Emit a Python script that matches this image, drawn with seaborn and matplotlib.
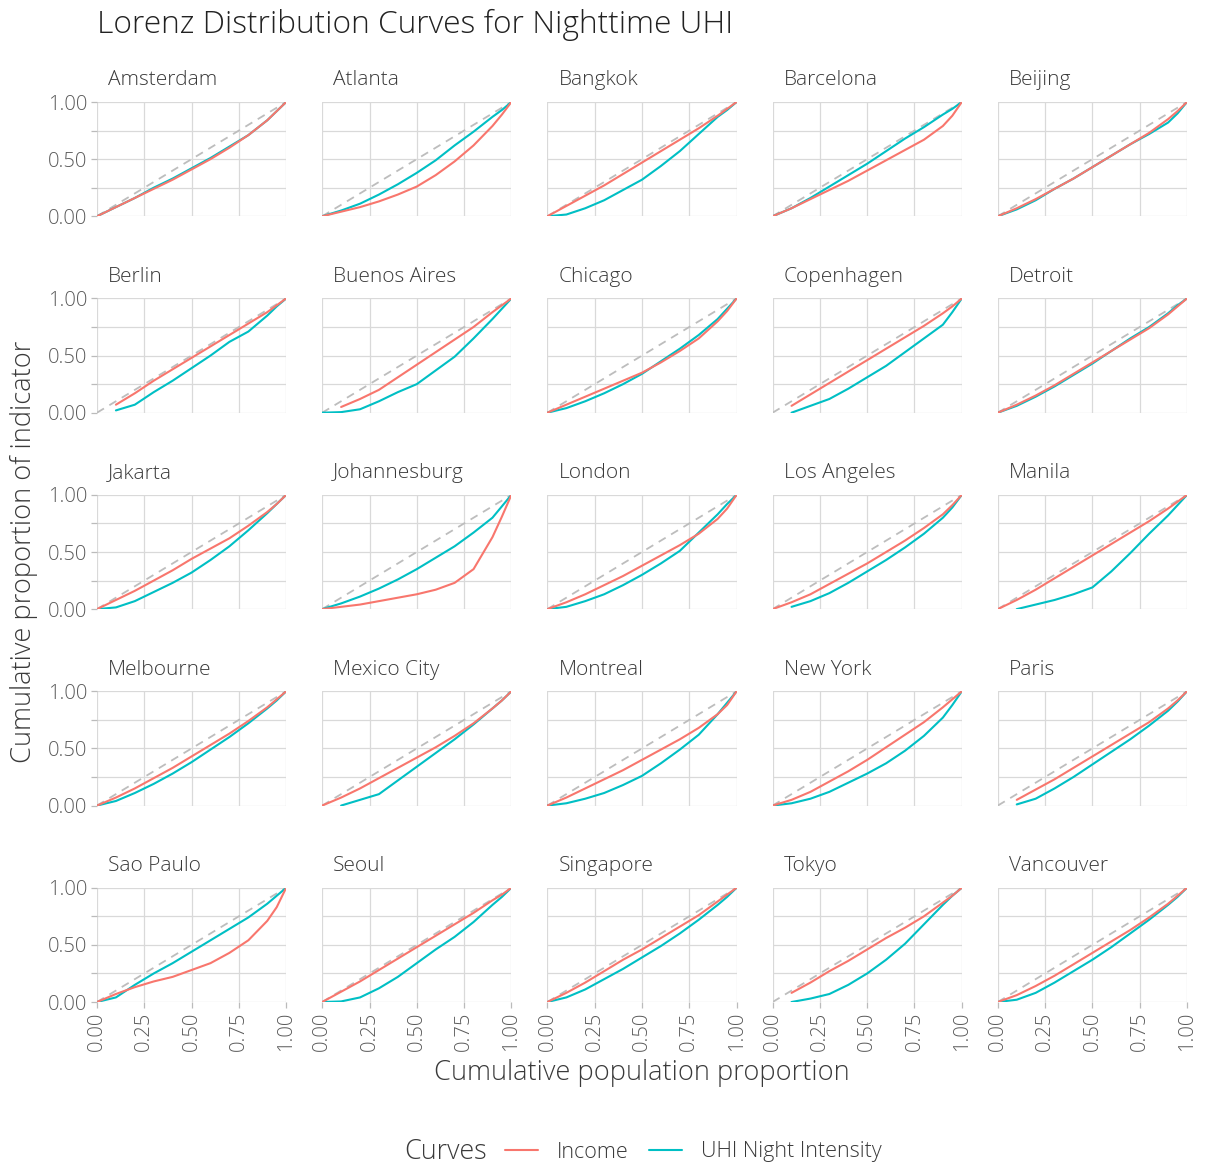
import numpy as np
import pandas as pd
import matplotlib
matplotlib.use("Agg")
import matplotlib.pyplot as plt
from matplotlib.lines import Line2D
import seaborn as sns

# ---------------- data ----------------
x_grid = [0.0, 0.1, 0.2, 0.3, 0.4, 0.5, 0.6, 0.7, 0.8, 0.9, 0.95, 1.0]
NA = np.nan

cities = ["Amsterdam", "Atlanta", "Bangkok", "Barcelona", "Beijing",
          "Berlin", "Buenos Aires", "Chicago", "Copenhagen", "Detroit",
          "Jakarta", "Johannesburg", "London", "Los Angeles", "Manila",
          "Melbourne", "Mexico City", "Montreal", "New York", "Paris",
          "Sao Paulo", "Seoul", "Singapore", "Tokyo", "Vancouver"]

income_amsterdam = [0, .08, .16, .24, .32, .41, .50, .60, .71, .84, .92, 1]
uhi_amsterdam    = [0, .08, .16, .25, .33, .42, .51, .61, .71, .84, .92, 1]
income_atlanta   = [0, .04, .08, .13, .19, .26, .36, .48, .62, .79, .89, 1]
uhi_atlanta      = [0, .05, .11, .19, .28, .38, .49, .62, .74, .87, .93, 1]
income_bangkok   = [0, .09, .18, .27, .37, .47, .57, .67, .77, .88, .94, 1]
uhi_bangkok      = [0, .015, .07, .14, .23, .32, .44, .57, .72, .87, .93, 1]
income_barcelona = [0, .07, .15, .23, .31, .40, .49, .58, .67, .79, .88, 1]
uhi_barcelona    = [0, .07, .16, .26, .36, .46, .57, .68, .78, .89, .94, 1]
income_beijing   = [0, .07, .15, .24, .33, .43, .53, .63, .73, .85, .92, 1]
uhi_beijing      = [0, .06, .14, .24, .33, .43, .53, .63, .72, .82, .90, 1]

income_berlin     = [NA, .07, .17, .28, .38, .48, .58, .68, .78, .88, .94, 1]
uhi_berlin        = [NA, .02, .07, .18, .28, .39, .50, .62, .71, .85, .93, 1]
income_buenosaires = [NA, .05, .12, .20, .31, .42, .53, .64, .75, .88, .94, 1]
uhi_buenosaires   = [0, .005, .03, .10, .18, .25, .37, .49, .65, .82, .91, 1]
income_chicago    = [0, .07, .14, .21, .28, .35, .44, .54, .65, .80, .89, 1]
uhi_chicago       = [0, .04, .10, .17, .25, .34, .45, .56, .68, .82, .91, 1]
income_copenhagen = [NA, .06, .16, .26, .36, .46, .56, .66, .76, .87, .93, 1]
uhi_copenhagen    = [NA, 0.0, .06, .12, .21, .31, .41, .53, .65, .77, .88, 1]
income_detroit    = [0, .07, .15, .24, .34, .44, .54, .64, .74, .86, .93, 1]
uhi_detroit       = [0, .06, .14, .23, .33, .43, .54, .65, .75, .87, .94, 1]

income_jakarta      = [0, .08, .16, .25, .34, .44, .53, .62, .73, .85, .92, 1]
uhi_jakarta         = [0, .015, .07, .15, .23, .32, .43, .55, .69, .84, .92, 1]
income_johannesburg = [0, .02, .04, .07, .10, .13, .17, .23, .35, .63, .81, 1]
uhi_johannesburg    = [0, .05, .11, .18, .26, .35, .45, .55, .67, .80, .90, 1]
income_london       = [0, .06, .13, .21, .29, .38, .47, .56, .66, .79, .88, 1]
uhi_london          = [0, .02, .07, .13, .21, .30, .40, .51, .67, .83, .92, 1]
income_losangeles   = [0, .06, .13, .22, .31, .40, .50, .60, .71, .83, .91, 1]
uhi_losangeles      = [NA, .02, .07, .14, .23, .33, .43, .54, .66, .80, .89, 1]
income_manila       = [0, .08, .17, .27, .37, .47, .57, .67, .77, .88, .94, 1]
uhi_manila          = [NA, 0.0, .04, .08, .13, .19, .33, .49, .66, .82, .91, 1]

income_melbourne  = [0, .07, .15, .24, .33, .43, .53, .63, .74, .86, .93, 1]
uhi_melbourne     = [0, .04, .11, .19, .28, .38, .49, .60, .72, .85, .92, 1]
income_mexicocity = [0, .07, .15, .24, .33, .42, .51, .61, .72, .85, .92, 1]
uhi_mexicocity    = [NA, 0.0, .05, .10, .22, .34, .46, .58, .71, .85, .92, 1]
income_montreal   = [0, .07, .15, .23, .31, .40, .49, .58, .68, .80, .88, 1]
uhi_montreal      = [0, .02, .06, .11, .18, .26, .37, .49, .62, .80, .90, 1]
income_newyork    = [0, .05, .12, .21, .30, .40, .51, .62, .73, .86, .93, 1]
uhi_newyork       = [0, .02, .06, .12, .20, .28, .37, .48, .61, .77, .88, 1]
income_paris      = [NA, .05, .14, .23, .33, .43, .53, .63, .73, .85, .92, 1]
uhi_paris         = [NA, .01, .06, .15, .25, .36, .47, .58, .70, .83, .91, 1]

income_saopaulo  = [0, .07, .13, .18, .22, .28, .34, .43, .54, .71, .83, 1]
uhi_saopaulo     = [0, .04, .15, .25, .34, .44, .54, .64, .74, .86, .93, 1]
income_seoul     = [0, .09, .18, .28, .38, .48, .58, .68, .78, .89, .94, 1]
uhi_seoul        = [0, .005, .04, .12, .22, .34, .46, .57, .70, .85, .92, 1]
income_singapore = [0, .08, .17, .27, .37, .46, .56, .66, .76, .88, .94, 1]
uhi_singapore    = [0, .04, .11, .20, .29, .39, .49, .60, .72, .85, .92, 1]
income_tokyo     = [NA, .08, .17, .27, .36, .46, .56, .65, .75, .87, .93, 1]
uhi_tokyo        = [NA, 0.0, .03, .07, .15, .25, .37, .51, .68, .85, .93, 1]
income_vancouver = [0, .06, .14, .23, .33, .43, .53, .63, .74, .86, .93, 1]
uhi_vancouver    = [0, .02, .08, .17, .27, .37, .48, .60, .72, .85, .92, 1]

income_series = [income_amsterdam, income_atlanta, income_bangkok, income_barcelona, income_beijing,
                 income_berlin, income_buenosaires, income_chicago, income_copenhagen, income_detroit,
                 income_jakarta, income_johannesburg, income_london, income_losangeles, income_manila,
                 income_melbourne, income_mexicocity, income_montreal, income_newyork, income_paris,
                 income_saopaulo, income_seoul, income_singapore, income_tokyo, income_vancouver]
uhi_series = [uhi_amsterdam, uhi_atlanta, uhi_bangkok, uhi_barcelona, uhi_beijing,
              uhi_berlin, uhi_buenosaires, uhi_chicago, uhi_copenhagen, uhi_detroit,
              uhi_jakarta, uhi_johannesburg, uhi_london, uhi_losangeles, uhi_manila,
              uhi_melbourne, uhi_mexicocity, uhi_montreal, uhi_newyork, uhi_paris,
              uhi_saopaulo, uhi_seoul, uhi_singapore, uhi_tokyo, uhi_vancouver]

curve_names = ["Income", "UHI Night Intensity"]
curve_colors = ["#F8766D", "#00BFC4"]
tick_values = [0.0, 0.25, 0.5, 0.75, 1.0]
tick_labels = ["0.00", "0.25", "0.50", "0.75", "1.00"]

rows = []
for city, inc, uhi in zip(cities, income_series, uhi_series):
    for xv, a, b in zip(x_grid, inc, uhi):
        rows.append((city, curve_names[0], xv, a))
        rows.append((city, curve_names[1], xv, b))
df = pd.DataFrame(rows, columns=["city", "Curve", "x", "y"]).dropna()

# ---------------- style ----------------
sns.set_theme(style="white")
FONT = ["Open Sans", "DejaVu Sans"]
plt.rcParams["font.family"] = FONT
plt.rcParams["font.weight"] = "light"
TXT = "#3a3a3a"
TICK_TXT = "#5a5a5a"
GRID = "#d9d9d9"

W, H = 1217, 1171
fig, axes = plt.subplots(5, 5, figsize=(W / 100, H / 100), dpi=100)
fig.subplots_adjust(left=97 / W, right=1187 / W, top=1 - 102 / H, bottom=1 - 1002 / H,
                    wspace=36 / 189, hspace=82 / 114)

palette = dict(zip(curve_names, curve_colors))
for i, (ax, city) in enumerate(zip(axes.flat, cities)):
    r, c = divmod(i, 5)
    sub = df[df.city == city]
    # equality line (y = x)
    sns.lineplot(x=x_grid, y=x_grid, ax=ax, color="#bdbdbd", lw=1.3,
                 linestyle=(0, (4.5, 3.5)), zorder=2)
    sns.lineplot(data=sub, x="x", y="y", hue="Curve",
                 hue_order=curve_names[::-1], palette=palette, ax=ax,
                 lw=1.5, legend=False, estimator=None, sort=True, zorder=3)
    ax.set_xlim(0, 1)
    ax.set_ylim(0, 1)
    ax.margins(0)
    ax.set_xlabel("")
    ax.set_ylabel("")
    for s in ax.spines.values():
        s.set_visible(False)
    ax.set_xticks(tick_values)
    ax.set_yticks(tick_values)
    ax.grid(True, color=GRID, lw=0.9)
    ax.set_axisbelow(True)
    if c == 0:
        ax.set_yticklabels(["0.00", "", "0.50", "", "1.00"])
        ax.tick_params(axis="y", length=4, width=0.9, color="#bbbbbb", pad=3,
                       labelsize=14.5, labelcolor=TICK_TXT, left=True)
    else:
        ax.tick_params(axis="y", left=False, labelleft=False)
    if r == 4:
        ax.set_xticklabels(tick_labels, rotation=90)
        ax.tick_params(axis="x", length=4, width=0.9, color="#bbbbbb", pad=3,
                       labelsize=14.5, labelcolor=TICK_TXT, bottom=True)
    else:
        ax.tick_params(axis="x", bottom=False, labelbottom=False)
    ax.text(0.058, 1.19, city, transform=ax.transAxes, ha="left", va="center",
            fontsize=15, color=TXT)

fig.text(97 / W, 1 - 25 / H, "Lorenz Distribution Curves for Nighttime UHI",
         ha="left", va="center", fontsize=22.8, color="#222222")
fig.text(24 / W, 1 - 552 / H, "Cumulative proportion of indicator", rotation=90,
         ha="center", va="center", fontsize=19.6, color=TXT)
fig.text(642 / W, 1 - 1073 / H, "Cumulative population proportion",
         ha="center", va="center", fontsize=19.6, color=TXT)

# legend
fig.text(404 / W, 1 - 1152 / H, "Curves", ha="left", va="center", fontsize=19.4, color=TXT)
handles = [Line2D([], [], color=col, lw=1.5) for col in curve_colors]
fig.legend(handles, curve_names, ncol=2, loc="center left",
           bbox_to_anchor=(505 / W, 1 - 1152 / H), frameon=False,
           fontsize=15.5, handlelength=1.55, handletextpad=0.85, columnspacing=0.95,
           borderpad=0, borderaxespad=0, labelcolor=TXT)

fig.savefig("out.png", dpi=100)
